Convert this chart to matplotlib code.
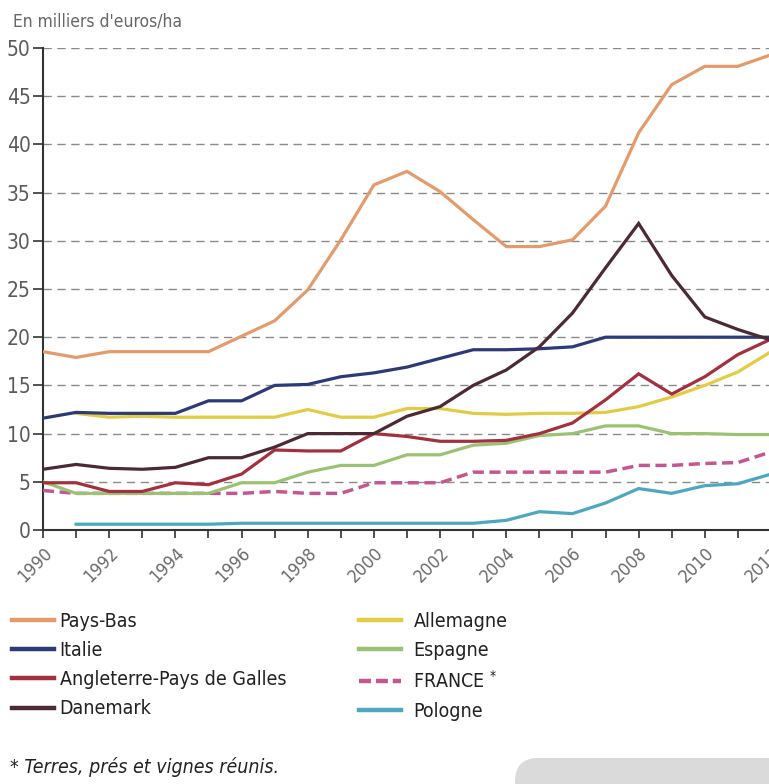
import numpy as np
import matplotlib
matplotlib.use("Agg")
import matplotlib.pyplot as plt
from matplotlib.lines import Line2D
from matplotlib.patches import FancyBboxPatch

plt.rcParams['font.family'] = ['DejaVu Sans']
plt.rcParams['font.stretch'] = 'condensed'

years = list(range(1990, 2013))
nan = np.nan

pays_bas = [18.5, 17.9, 18.5, 18.5, 18.5, 18.5, 20.1, 21.7, 24.9, 30.1, 35.8, 37.2,
            35.1, 32.2, 29.4, 29.4, 30.1, 33.6, 41.2, 46.2, 48.1, 48.1, 49.3]
italie = [11.6, 12.2, 12.1, 12.1, 12.1, 13.4, 13.4, 15.0, 15.1, 15.9, 16.3, 16.9,
          17.8, 18.7, 18.7, 18.8, 19.0, 20.0, 20.0, 20.0, 20.0, 20.0, 20.0]
angleterre = [4.9, 4.9, 4.0, 4.0, 4.9, 4.7, 5.8, 8.3, 8.2, 8.2, 10.0, 9.7,
              9.2, 9.2, 9.3, 10.0, 11.1, 13.5, 16.2, 14.1, 15.9, 18.2, 19.8]
danemark = [6.3, 6.8, 6.4, 6.3, 6.5, 7.5, 7.5, 8.6, 10.0, 10.0, 10.0, 11.8,
            12.8, 15.0, 16.6, 19.0, 22.5, 27.2, 31.8, 26.4, 22.1, 20.8, 19.7]
allemagne = [nan, 12.1, 11.7, 11.8, 11.7, 11.7, 11.7, 11.7, 12.5, 11.7, 11.7, 12.6,
             12.6, 12.1, 12.0, 12.1, 12.1, 12.2, 12.8, 13.8, 15.0, 16.4, 18.5]
espagne = [5.0, 3.8, 3.8, 3.8, 3.8, 3.8, 4.9, 4.9, 6.0, 6.7, 6.7, 7.8,
           7.8, 8.8, 9.0, 9.8, 10.0, 10.8, 10.8, 10.0, 10.0, 9.9, 9.9]
france = [4.1, 3.8, 3.8, 3.8, 3.8, 3.8, 3.8, 4.0, 3.8, 3.8, 4.9, 4.9,
          4.9, 6.0, 6.0, 6.0, 6.0, 6.0, 6.7, 6.7, 6.9, 7.0, 8.1]
pologne = [nan, 0.6, 0.6, 0.6, 0.6, 0.6, 0.7, 0.7, 0.7, 0.7, 0.7, 0.7,
           0.7, 0.7, 1.0, 1.9, 1.7, 2.8, 4.3, 3.8, 4.6, 4.8, 5.8]

series = [
    ("Pays-Bas", pays_bas, "#E39B6C", "-"),
    ("Italie", italie, "#2C3A78", "-"),
    ("Angleterre-Pays de Galles", angleterre, "#A3303F", "-"),
    ("Danemark", danemark, "#4B2A33", "-"),
    ("Allemagne", allemagne, "#E2CB45", "-"),
    ("Espagne", espagne, "#9BC273", "-"),
    ("FRANCE $^{*}$", france, "#C4578F", "--"),
    ("Pologne", pologne, "#4DA7BE", "-"),
]

W, H = 769, 784
fig = plt.figure(figsize=(W / 100, H / 100), dpi=100)
ax = fig.add_axes([43 / W, 1 - 530 / H, (771 - 43) / W, (530 - 48) / H])

draw_order = [7, 6, 5, 4, 2, 1, 3, 0]
for i in draw_order:
    name, vals, col, ls = series[i]
    if ls == "--":
        ax.plot(years, vals, color=col, lw=2.5, ls=(0, (3.2, 1.6)), zorder=3)
    else:
        ax.plot(years, vals, color=col, lw=2.3, ls=ls, zorder=3,
                solid_joinstyle='miter')

ax.set_xlim(1990, 2012)
ax.set_ylim(0, 50)
ax.set_yticks(range(0, 51, 5))
ax.set_xticks(range(1990, 2013))
ax.set_xticklabels([str(y) if y % 2 == 0 else "" for y in years], rotation=45,
                   ha='right', va='top', rotation_mode='anchor')
for y in range(5, 51, 5):
    ax.axhline(y, color='#8a8a8a', lw=1.0, ls=(0, (6, 4)), zorder=1)

for s in ['top', 'right']:
    ax.spines[s].set_visible(False)
for s in ['left', 'bottom']:
    ax.spines[s].set_color('#333333')
    ax.spines[s].set_linewidth(1.5)
ax.tick_params(axis='y', length=7, width=1.2, color='#333333', labelsize=15,
               labelcolor='#5a5a5a', pad=2)
ax.tick_params(axis='x', length=6, width=1.2, color='#333333', labelsize=13,
               labelcolor='#6a6a6a', pad=4)

fig.text(13 / W, 1 - 22 / H, "En milliers d'euros/ha", fontsize=12.5, color='#666666',
         ha='left', va='center')

leg_kw = dict(frameon=False, fontsize=14, handlelength=2.15,
              labelspacing=0.52, borderpad=0, borderaxespad=0, labelcolor='#222222')
h1 = [Line2D([], [], color=series[i][2], lw=3.2) for i in range(4)]
l1 = [series[i][0] for i in range(4)]
leg1 = fig.legend(h1, l1, loc='upper left', bbox_to_anchor=(12 / W, 1 - 612 / H),
                  handletextpad=0.3, **leg_kw)
h2 = [Line2D([], [], color=series[i][2], lw=3.2,
             ls=(0, (2.7, 1.1)) if series[i][3] == "--" else "-") for i in range(4, 8)]
l2 = [series[i][0] for i in range(4, 8)]
leg2 = fig.legend(h2, l2, loc='upper left', bbox_to_anchor=(359 / W, 1 - 612 / H),
                  handletextpad=0.65, **leg_kw)

fig.text(10 / W, 1 - 767 / H, "* Terres, prés et vignes réunis.", fontsize=14,
         style='italic', color='#222222', ha='left', va='center')

box = FancyBboxPatch((515 / W, -20 / H), 300 / W, (784 - 758 + 20) / H,
                     boxstyle="round,pad=0,rounding_size=0.03",
                     transform=fig.transFigure, facecolor='#dadada', edgecolor='none')
fig.patches.append(box)

fig.savefig("out.png", dpi=100)
